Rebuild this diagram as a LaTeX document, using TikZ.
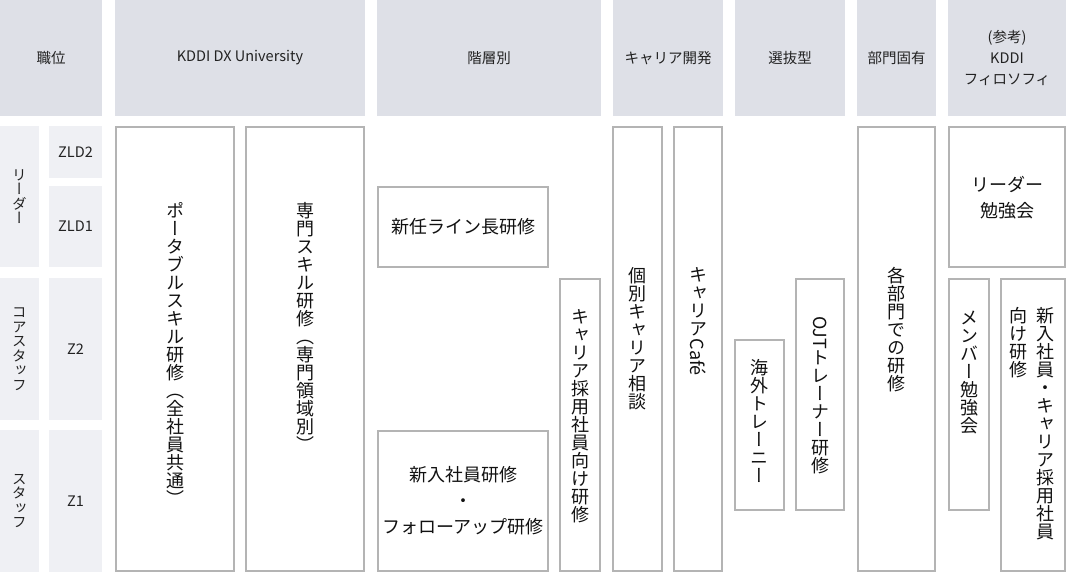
\documentclass[tikz,border=0pt]{standalone}
\usepackage{fontspec}
\usepackage{graphicx}
\setmainfont{Noto Sans CJK JP}
\newfontfamily\vjp[Script=CJK,RawFeature=+vert]{Noto Sans CJK JP}
\definecolor{headgray}{RGB}{222,224,231}
\definecolor{rankgray}{RGB}{239,240,244}
\definecolor{linegray}{RGB}{180,180,180}
\definecolor{textgray}{RGB}{34,34,34}
\definecolor{textdark}{RGB}{17,17,17}

\makeatletter
\newcommand{\tate}[1]{\vtop{\vjp\baselineskip=1em\lineskiplimit=0pt\lineskip=.1em
  \@tfor\tc:=#1\do{\hbox to 1em{\hss\tc\hss}}}}
\makeatother
\newcommand{\yoko}[1]{\raisebox{.8em}{\rotatebox{-90}{#1}}}

\begin{document}
\begin{tikzpicture}[x=1pt, y=-1pt]
		\tikzstyle{every node}=[inner sep=0pt, outer sep=0pt]
		\tikzstyle{head}=[fill=headgray, text=textgray, font=\fontsize{14.5}{21}\selectfont, align=center, minimum height=116]
		\tikzstyle{rank}=[fill=rankgray, text=textgray, font=\fontsize{14.5}{16}\selectfont]
		\tikzstyle{course}=[draw=linegray, line width=2pt, fill=white]
		\tikzstyle{txt}=[text=textdark, font=\fontsize{18}{26}\selectfont, align=center]
		\tikzstyle{vtxt}=[txt, anchor=north]

		\useasboundingbox (0,0) rectangle (1066,572);

		\node[head, minimum width=102] (hpos) at (51,58) {職位};
		\node[head, minimum width=250] (hdx) at (240,58) {KDDI DX University};
		\node[head, minimum width=224] (hlayer) at (489,58) {階層別};
		\node[head, minimum width=110] (hcareer) at (668,58) {キャリア開発};
		\node[head, minimum width=110] (hselect) at (790,58) {選抜型};
		\node[head, minimum width=79] (hdept) at (896.5,58) {部門固有};
		\node[head, minimum width=118] (hphilo) at (1007,58) {(参考)\\KDDI\\フィロソフィ};

		\node[rank, minimum width=39, minimum height=141] (rlead) at (19.5,196.5) {\tate{リーダー}};
		\node[rank, minimum width=53, minimum height=52] (rzld2) at (75.5,152) {ZLD2};
		\node[rank, minimum width=53, minimum height=81] (rzld1) at (75.5,226.5) {ZLD1};
		\node[rank, minimum width=39, minimum height=142] (rcore) at (19.5,349) {\tate{コアスタッフ}};
		\node[rank, minimum width=53, minimum height=142] (rz2) at (75.5,349) {Z2};
		\node[rank, minimum width=39, minimum height=142] (rstaff) at (19.5,501) {\tate{スタッフ}};
		\node[rank, minimum width=53, minimum height=142] (rz1) at (75.5,501) {Z1};

		\node[course, minimum width=118, minimum height=444] (bport) at (175,349) {};
		\node[course, minimum width=118, minimum height=444] (bspec) at (305,349) {};
		\node[course, minimum width=170, minimum height=80] (bline) at (463,227) {};
		\node[course, minimum width=170, minimum height=140] (bnew) at (463,501) {};
		\node[course, minimum width=40, minimum height=292] (brecr) at (580,425) {};
		\node[course, minimum width=49, minimum height=444] (bcons) at (637.5,349) {};
		\node[course, minimum width=48, minimum height=444] (bcafe) at (698,349) {};
		\node[course, minimum width=49, minimum height=170] (bover) at (759.5,425) {};
		\node[course, minimum width=48, minimum height=231] (bojt) at (820,394.5) {};
		\node[course, minimum width=77, minimum height=444] (bdept) at (896.5,349) {};
		\node[course, minimum width=116, minimum height=140] (bleadst) at (1007,197) {};
		\node[course, minimum width=40, minimum height=231] (bmemst) at (969,394.5) {};
		\node[course, minimum width=64, minimum height=292] (bnewcr) at (1033,425) {};

		\node[vtxt] (tport) at (175,202) {\tate{ポータブルスキル研修（全社員共通）}};
		\node[vtxt] (tspec) at (305,202) {\tate{専門スキル研修（専門領域別）}};
		\node[txt] (tline) at (bline) {新任ライン長研修};
		\node[txt] (tnew) at (bnew) {新入社員研修\\・\\フォローアップ研修};
		\node[vtxt] (trecr) at (580,309) {\tate{キャリア採用社員向け研修}};
		\node[vtxt] (tcons) at (637.5,267) {\tate{個別キャリア相談}};
		\node[vtxt] (tcafe) at (698,267) {\tate{キャリア{\yoko{Café}}}};
		\node[vtxt] (tover) at (759.5,359) {\tate{海外トレーニー}};
		\node[vtxt] (tojt) at (820,316) {\tate{{\yoko{OJT}}トレーナー研修}};
		\node[vtxt] (tdept) at (896.5,267) {\tate{各部門での研修}};
		\node[txt] (tleadst) at (1007,198) {リーダー\\勉強会};
		\node[vtxt] (tmemst) at (969,311) {\tate{メンバー勉強会}};
		\node[vtxt] (tnewcr) at (1031.5,307) {\tate{向け研修}\hspace{9pt}\tate{新入社員・キャリア採用社員}};
	\end{tikzpicture}
\end{document}
